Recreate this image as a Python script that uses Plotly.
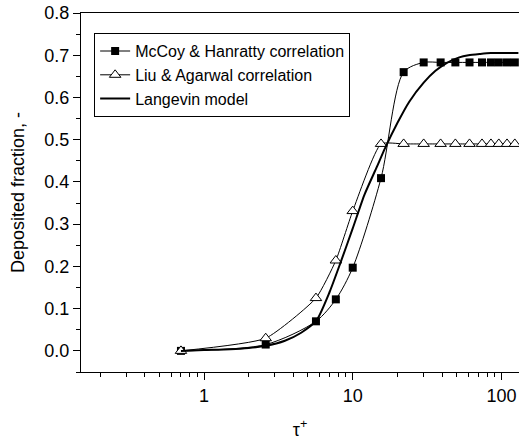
import plotly.graph_objects as go

# ---- data ----
tau_exp = [0.7, 2.6, 5.66, 7.7, 10.0, 15.5, 22.0, 30.0, 39.0, 49.0, 61.0, 74.0, 85.0, 96.0, 109.0, 123.0]
mccoy = [0.0, 0.015, 0.07, 0.122, 0.197, 0.409, 0.66, 0.683, 0.683, 0.683, 0.683, 0.683, 0.683, 0.683, 0.683, 0.683]
liu = [0.0, 0.03, 0.125, 0.214, 0.331, 0.49, 0.49, 0.49, 0.49, 0.49, 0.49, 0.49, 0.49, 0.49, 0.49, 0.49]

tau_model = [0.7, 1.0, 1.5, 2.0, 2.6, 3.5, 4.5, 5.7, 7.0, 8.3, 10.0, 12.0, 14.5, 16.5, 20.0, 24.0, 30.0, 36.0, 43.0, 52.0, 60.0, 72.0, 85.0, 100.0, 130.0]
langevin = [0.0, 0.002, 0.004, 0.007, 0.012, 0.024, 0.043, 0.072, 0.14, 0.21, 0.29, 0.37, 0.435, 0.48, 0.54, 0.59, 0.635, 0.663, 0.682, 0.695, 0.700, 0.703, 0.705, 0.705, 0.705]

x_major = [1, 10, 100]
x_minor = [0.2, 0.3, 0.4, 0.5, 0.6, 0.7, 0.8, 0.9, 2, 3, 4, 5, 6, 7, 8, 9, 20, 30, 40, 50, 60, 70, 80, 90]

FONT = "Liberation Sans, Arial, sans-serif"

fig = go.Figure()
fig.add_trace(go.Scatter(
    x=tau_exp, y=mccoy, name="McCoy & Hanratty correlation",
    mode="lines+markers",
    line=dict(color="black", width=1, shape="spline", smoothing=0.8),
    marker=dict(symbol="square", size=8, color="black", line=dict(width=0)),
))
fig.add_trace(go.Scatter(
    x=tau_exp, y=liu, name="Liu & Agarwal correlation",
    mode="lines+markers",
    line=dict(color="black", width=1, shape="spline", smoothing=0.5),
    marker=dict(symbol="triangle-up", size=10, color="white", line=dict(color="black", width=1)),
))
fig.add_trace(go.Scatter(
    x=tau_model, y=langevin, name="Langevin model",
    mode="lines",
    line=dict(color="black", width=2, shape="spline", smoothing=0.6),
))

fig.update_layout(
    width=519, height=442,
    margin=dict(l=81, r=0, t=13, b=70),
    paper_bgcolor="white", plot_bgcolor="white",
    font=dict(family=FONT, size=18, color="black"),
    showlegend=True,
    legend=dict(
        x=0.03, y=0.944, xanchor="left", yanchor="top",
        bgcolor="white", bordercolor="black", borderwidth=1,
        font=dict(family=FONT, size=16, color="black"),
        tracegroupgap=0, itemwidth=30,
    ),
)

fig.update_xaxes(
    type="log", range=[-0.827, 2.118],
    tickvals=x_major, ticktext=[str(v) for v in x_major],
    ticks="outside", ticklen=7, tickwidth=1, tickcolor="black",
    minor=dict(tickvals=x_minor, ticks="outside", ticklen=3.5, tickwidth=1, tickcolor="black"),
    showline=True, linecolor="black", linewidth=1.3, mirror=True,
    showgrid=False, zeroline=False,
    tickfont=dict(family=FONT, size=18),
    title=dict(text="τ<sup>+</sup>", font=dict(family=FONT, size=18), standoff=18),
)
fig.update_yaxes(
    range=[-0.05, 0.8],
    tickvals=[0.0, 0.1, 0.2, 0.3, 0.4, 0.5, 0.6, 0.7, 0.8],
    ticktext=["0.0", "0.1", "0.2", "0.3", "0.4", "0.5", "0.6", "0.7", "0.8"],
    ticks="outside", ticklen=7, tickwidth=1, tickcolor="black",
    minor=dict(dtick=0.05, tick0=0, ticks="outside", ticklen=4, tickwidth=1, tickcolor="black"),
    showline=True, linecolor="black", linewidth=1.3,
    showgrid=False, zeroline=False,
    tickfont=dict(family=FONT, size=18),
    title=dict(text="Deposited fraction, -", font=dict(family=FONT, size=18), standoff=14),
)

fig.write_html("out.html")
